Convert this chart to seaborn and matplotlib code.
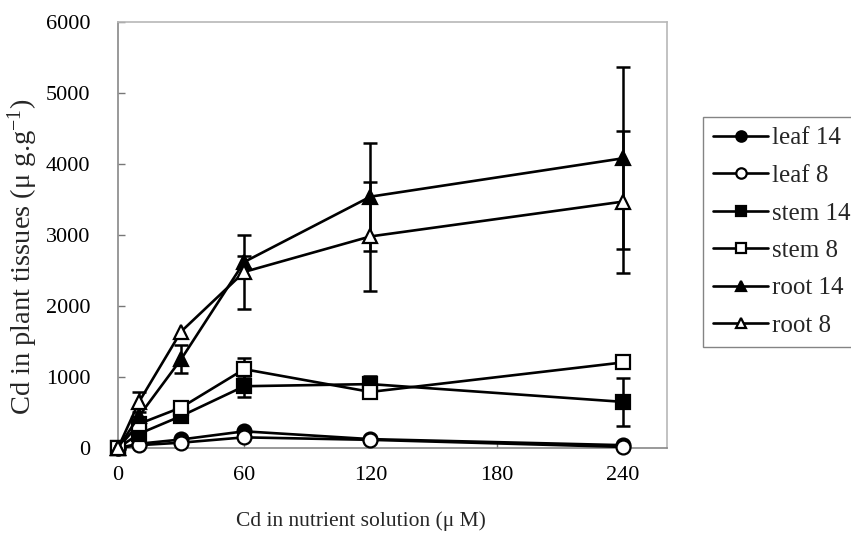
import numpy as np
import pandas as pd
import matplotlib
matplotlib.use("Agg")
import matplotlib.pyplot as plt
import seaborn as sns

# Cd supplied in nutrient solution (uM)
cd_solution = [0, 10, 30, 60, 120, 240]

# Mean Cd content in tissues (ug/g) for two cultivars (14 and 8)
leaf_14 = [0, 60, 120, 235, 125, 40]
leaf_8 = [0, 40, 75, 150, 115, 15]
stem_14 = [0, 200, 450, 870, 900, 650]
stem_8 = [0, 340, 570, 1110, 790, 1205]
root_14 = [0, 450, 1250, 2620, 3540, 4080]
root_8 = [0, 650, 1640, 2480, 2980, 3470]

# Standard deviations (0 = no bar drawn)
leaf_14_sd = [0, 0, 0, 30, 0, 0]
leaf_8_sd = [0, 0, 0, 0, 0, 0]
stem_14_sd = [0, 0, 0, 150, 110, 335]
stem_8_sd = [0, 0, 0, 155, 0, 0]
root_14_sd = [0, 0, 200, 80, 760, 1280]
root_8_sd = [0, 140, 0, 520, 770, 1000]

series_names = ["leaf 14", "leaf 8", "stem 14", "stem 8", "root 14", "root 8"]
series_means = [leaf_14, leaf_8, stem_14, stem_8, root_14, root_8]
series_sds = [leaf_14_sd, leaf_8_sd, stem_14_sd, stem_8_sd, root_14_sd, root_8_sd]
series_markers = ["o", "o", "s", "s", "^", "^"]
series_faces = ["black", "white", "black", "white", "black", "white"]

df = pd.concat(
    [pd.DataFrame({"cd": cd_solution, "value": m, "sd": s, "series": n})
     for n, m, s in zip(series_names, series_means, series_sds)],
    ignore_index=True,
)

sns.set_theme(style="white")
plt.rcParams["font.family"] = ["Liberation Serif", "DejaVu Serif"]
plt.rcParams["mathtext.default"] = "regular"

fig = plt.figure(figsize=(8.51, 5.44), dpi=100)
ax = fig.add_axes([118 / 851, 1 - 448 / 544, 549 / 851, 426 / 544])

# error bars first so the markers sit on top
for name in series_names:
    sub = df[(df["series"] == name) & (df["sd"] > 0)]
    ax.errorbar(sub["cd"], sub["value"], yerr=sub["sd"], fmt="none",
                ecolor="black", elinewidth=1.8, capsize=5, capthick=1.8,
                zorder=2)

for name, mk, fc in zip(series_names, series_markers, series_faces):
    sub = df[df["series"] == name]
    sns.lineplot(data=sub, x="cd", y="value", ax=ax, color="black",
                 linewidth=1.9, marker=mk, markersize=10 if mk != "^" else 10.5,
                 markerfacecolor=fc, markeredgecolor="black",
                 markeredgewidth=1.6, label=name, zorder=3, clip_on=False)

ax.set_xlim(0, 261)
ax.set_ylim(0, 6000)
ax.set_xticks([0, 60, 120, 180, 240])
ax.set_yticks(range(0, 6001, 1000))
ax.tick_params(axis="both", direction="in", length=5, width=1,
               color="#777777", labelsize=16, labelcolor="black")
ax.tick_params(axis="y", pad=20)
ax.tick_params(axis="x", pad=13)
ax.tick_params(left=True, bottom=True)

for side in ["top", "right"]:
    ax.spines[side].set_color("#b8b8b8")
    ax.spines[side].set_linewidth(1.2)
for side in ["left", "bottom"]:
    ax.spines[side].set_color("#888888")
    ax.spines[side].set_linewidth(1.2)

ax.set_xlabel("Cd in nutrient solution (\u03bc M)", fontsize=15.5)
ax.set_ylabel("Cd in plant tissues (\u03bc g.g$^{-1}$)", fontsize=20.5)
ax.xaxis.set_label_coords(0.443, -0.148)
ax.yaxis.set_label_coords(-0.142, 0.448)

handles, labels = ax.get_legend_handles_labels()
leg = ax.legend(handles, labels, loc="upper left",
                bbox_to_anchor=(703 / 851, 1 - 117 / 544),
                bbox_transform=fig.transFigure, frameon=True,
                fontsize=18, handlelength=2.2, handletextpad=0.15,
                labelspacing=0.6, borderpad=0.4, borderaxespad=0,
                markerscale=0.75, fancybox=False, edgecolor="#666666")
leg.get_frame().set_linewidth(1.0)

fig.savefig("out.png", dpi=100)
